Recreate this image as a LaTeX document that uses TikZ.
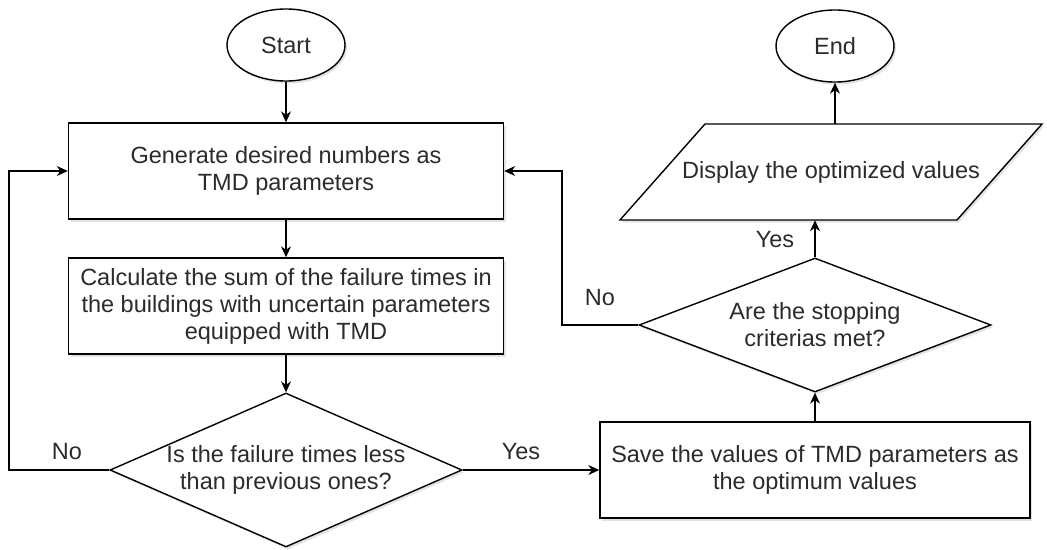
\documentclass[tikz,border=0pt]{standalone}
\usepackage{fontspec}
\setmainfont{Liberation Sans}
\usetikzlibrary{shapes.geometric,arrows.meta,shadows}
\definecolor{txtc}{HTML}{2B2B2B}
\tikzset{
  x=1pt,y=-1pt,
  shad/.style={drop shadow={shadow xshift=2pt, shadow yshift=-2.5pt, opacity=0.22, fill=gray}},
  base/.style={draw=black, line width=1.4pt, fill=white, inner sep=0pt, shad},
  txt/.style={text=txtc, font=\fontsize{23.5}{27}\selectfont, align=center},
  term/.style={base, ellipse, minimum width=118pt, minimum height=72pt, txt},
  proc/.style={base, rectangle, minimum width=435pt, minimum height=96pt, txt},
  dec/.style={base, diamond, minimum width=352pt, minimum height=154pt, aspect=2.29},
  arr/.style={draw=black, line width=1.4pt, -{Stealth[length=11pt,width=10pt]}},
  lbl/.style={txt}
}
\begin{document}
\begin{tikzpicture}
\useasboundingbox (0,0) rectangle (1047,549);
\node[term] (start) at (286,45) {Start};
\node[proc] (gen) at (286,171) {Generate desired numbers as\\TMD parameters};
\node[proc] (calc) at (286,306) {Calculate the sum of the failure times in\\the buildings with uncertain parameters\\equipped with TMD};
\node[dec, label={[txt]center:Is the failure times less\\than previous ones?}] (d1) at (286,470) {};
\node[proc, minimum width=430pt] (save) at (815,470) {Save the values of TMD parameters as\\the optimum values};
\node[dec, minimum height=134pt, aspect=2.63, label={[txt]center:Are the stopping\\criterias met?}] (d2) at (815,325) {};
% parallelogram (input/output)
\draw[base] (620,220) -- (705,124) -- (1042,124) -- (957,220) -- cycle;
\node[txt, minimum width=337pt, minimum height=96pt, inner sep=0pt] (disp) at (831,172) {Display the optimized values};
\node[term] (end) at (835,46) {End};

\coordinate (lloop) at (9,470);
\coordinate (rloop) at (562,325);

\draw[arr] (start) -- (gen);
\draw[arr] (gen) -- (calc);
\draw[arr] (calc.south) -- (d1.north);
\draw[arr] (d1.west) -- (lloop) |- (gen.west);
\draw[arr] (d1.east) -- (save.west);
\draw[arr] (save.north) -- (d2.south);
\draw[arr] (d2.west) -- (rloop) |- (gen.east);
\draw[arr] (d2.north) -- (d2.north |- disp.south);
\draw[arr] (disp.north -| end.south) -- (end.south);

\node[lbl] (nol) at (67,452) {No};
\node[lbl] (yesl) at (521,452) {Yes};
\node[lbl] (nor) at (600,298) {No};
\node[lbl] (yest) at (775,240) {Yes};
\end{tikzpicture}
\end{document}
